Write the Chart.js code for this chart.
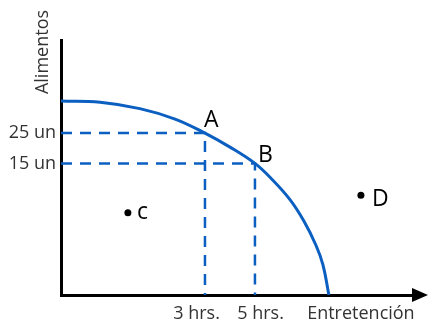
<!DOCTYPE html>
<html>
<head>
<meta charset="utf-8">
<script src="https://cdn.jsdelivr.net/npm/chart.js@4.4.0/dist/chart.umd.min.js"></script>
<style>
  body { margin: 0; background: #ffffff; }
  #wrap { width: 430px; height: 325px; }
</style>
</head>
<body>
<div id="wrap"><canvas id="ppf" width="430" height="325"></canvas></div>
<script>
/* ------------------
    Data
-------------------*/
// frontier curve
var frontierX = [0, 1.11, 2.24, 3.24, 4.09, 4.80, 5.51, 5.99, 6.51, 6.90, 7.24, 7.44, 7.61];
var frontierY = [7.61, 7.56, 7.31, 6.90, 6.35, 5.80, 5.16, 4.54, 3.73, 2.90, 1.96, 1.19, 0];

// labelled points: A, B on the curve, c inside, D outside
var pointNames = ['A', 'B', 'c', 'D'];
var pointX = [4.09, 5.51, 1.90, 8.52];
var pointY = [6.35, 5.16, 3.23, 3.91];

var xTickValues = [3.85, 5.67, 8.52];
var xTickLabels = ['3 hrs.', '5 hrs.', 'Entretención'];
var yTickValues = [6.35, 5.16];
var yTickLabels = ['25 un', '15 un'];
var yTitle = 'Alimentos';

var BLUE = '#0b5fc1';
var FONT = "'Open Sans', sans-serif";

function xy(xs, ys) {
    return xs.map(function (x, i) { return { x: x, y: ys[i] }; });
}

// dashed guides from the axes to A and B
function guide(i) {
    return {
        data: [{ x: 0, y: pointY[i] }, { x: pointX[i], y: pointY[i] }, { x: pointX[i], y: 0 }],
        showLine: true,
        borderColor: BLUE,
        borderWidth: 2.5,
        borderDash: [11, 8],
        pointRadius: 0,
        tension: 0
    };
}

/* ------------------
    Extra drawing: arrow, title, point letters
-------------------*/
var decorations = {
    id: 'decorations',
    afterDraw: function (chart) {
        var ctx = chart.ctx;
        var a = chart.chartArea;
        var xs = chart.scales.x, ys = chart.scales.y;
        ctx.save();

        // arrow head on the x axis
        ctx.fillStyle = '#000';
        ctx.beginPath();
        ctx.moveTo(a.right - 1, a.bottom - 7);
        ctx.lineTo(a.right + 15, a.bottom);
        ctx.lineTo(a.right - 1, a.bottom + 7);
        ctx.closePath();
        ctx.fill();

        // vertical axis title
        ctx.fillStyle = '#333';
        ctx.font = '18px ' + FONT;
        ctx.textAlign = 'center';
        ctx.textBaseline = 'middle';
        ctx.translate(43, 52);
        ctx.rotate(-Math.PI / 2);
        ctx.fillText(yTitle, 0, 0);
        ctx.restore();

        // letters next to the points
        var offsets = [[-1, -6], [3, -1], [9, 6.5], [11, 10.5]];
        ctx.save();
        ctx.fillStyle = '#000';
        ctx.font = '23px ' + FONT;
        ctx.textAlign = 'left';
        ctx.textBaseline = 'alphabetic';
        pointNames.forEach(function (name, i) {
            var px = xs.getPixelForValue(pointX[i]);
            var py = ys.getPixelForValue(pointY[i]);
            ctx.fillText(name, px + offsets[i][0], py + offsets[i][1]);
        });
        ctx.restore();
    }
};

/* ------------------
    Chart
-------------------*/
var chart = new Chart(document.getElementById('ppf'), {
    type: 'scatter',
    data: {
        datasets: [
            {
                data: xy(frontierX, frontierY),
                showLine: true,
                borderColor: BLUE,
                borderWidth: 3,
                pointRadius: 0,
                tension: 0.4
            },
            guide(0),
            guide(1),
            {
                data: xy(pointX.slice(2), pointY.slice(2)),
                pointRadius: 3.5,
                pointBackgroundColor: '#000',
                pointBorderWidth: 0
            }
        ]
    },
    options: {
        responsive: false,
        animation: false,
        events: [],
        layout: { padding: { top: 40, right: 17, left: 0, bottom: 0 } },
        plugins: {
            legend: { display: false },
            tooltip: { enabled: false }
        },
        scales: {
            x: {
                type: 'linear',
                min: 0,
                max: 10,
                grid: { display: false, drawTicks: false },
                border: { display: true, color: '#000', width: 3 },
                afterBuildTicks: function (scale) {
                    scale.ticks = xTickValues.map(function (v) { return { value: v }; });
                },
                afterFit: function (scale) { scale.height = 30; },
                ticks: {
                    padding: 8,
                    color: '#333',
                    font: { family: FONT, size: 18 },
                    maxRotation: 0,
                    autoSkip: false,
                    callback: function (v, i) { return xTickLabels[i]; }
                }
            },
            y: {
                type: 'linear',
                min: 0,
                max: 10,
                grid: { display: false, drawTicks: false },
                border: { display: true, color: '#000', width: 3 },
                afterBuildTicks: function (scale) {
                    scale.ticks = yTickValues.map(function (v) { return { value: v }; });
                },
                afterFit: function (scale) { scale.width = 61; },
                ticks: {
                    padding: 5,
                    color: '#333',
                    font: { family: FONT, size: 18 },
                    autoSkip: false,
                    callback: function (v, i) { return yTickLabels[i]; }
                }
            }
        }
    },
    plugins: [decorations]
});
</script>
</body>
</html>
